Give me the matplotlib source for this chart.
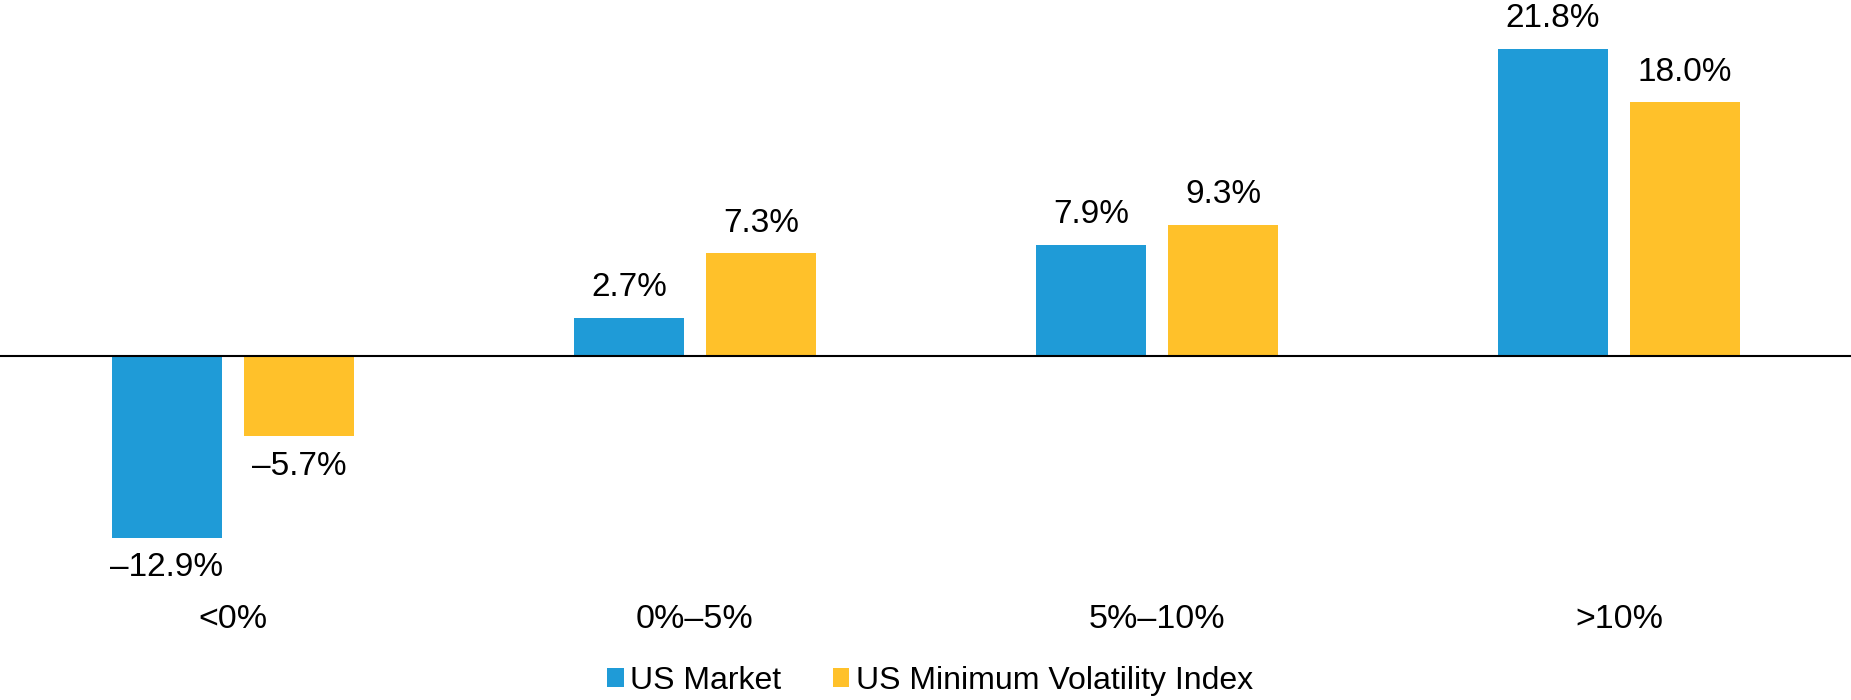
import matplotlib as mpl
mpl.use('Agg')
import matplotlib.pyplot as plt
from matplotlib.patches import Patch
import numpy as np

#
#--- chart data
#
categories  = ['<0%', '0%\u20135%', '5%\u201310%', '>10%']
series      = ['US Market', 'US Minimum Volatility Index']
us_market   = [-12.9, 2.7, 7.9, 21.8]
us_min_vol  = [-5.7, 7.3, 9.3, 18.0]

blue   = '#1F9BD7'
yellow = '#FFC12A'

plt.rcParams['font.family'] = ['Liberation Sans', 'DejaVu Sans']

fig = plt.figure(figsize=(18.51, 7.0), dpi=100)
ax  = fig.add_axes([0, 0, 1, 1])

x      = np.arange(len(categories))
width  = 0.238
offset = 0.143

b1 = ax.bar(x - offset, us_market,  width, color=blue)
b2 = ax.bar(x + offset, us_min_vol, width, color=yellow)

ax.axhline(0, color='black', lw=1.5)

#
#--- value labels, en dash for minus sign
#
def fmt(v):
    s = '%.1f%%' % abs(v)
    return ('\u2013' + s) if v < 0 else s

for bars, vals in ((b1, us_market), (b2, us_min_vol)):
    for rect, v in zip(bars, vals):
        cx = rect.get_x() + rect.get_width() / 2
        dy = 21.6 if v >= 0 else -21.6
        ax.annotate(fmt(v), (cx, v), xytext=(0, dy), textcoords='offset points',
                    ha='center', va='center', fontsize=24)

#
#--- category labels under the groups
#
for xi, cat in zip(x, categories):
    ax.text(xi, -18.7, cat, ha='center', va='center', fontsize=24.5)

ax.set_xlim(-0.504, 3.502)
ax.set_ylim(-24.4, 25.25)
ax.axis('off')

handles = [Patch(facecolor=blue), Patch(facecolor=yellow)]
fig.legend(handles, series, loc='center', bbox_to_anchor=(930 / 1851, 1 - 681 / 700),
           ncol=2, frameon=False, fontsize=23, handlelength=0.53, handleheight=0.53,
           handletextpad=0.19, columnspacing=1.6, borderpad=0)

fig.savefig('out.png', dpi=100)
